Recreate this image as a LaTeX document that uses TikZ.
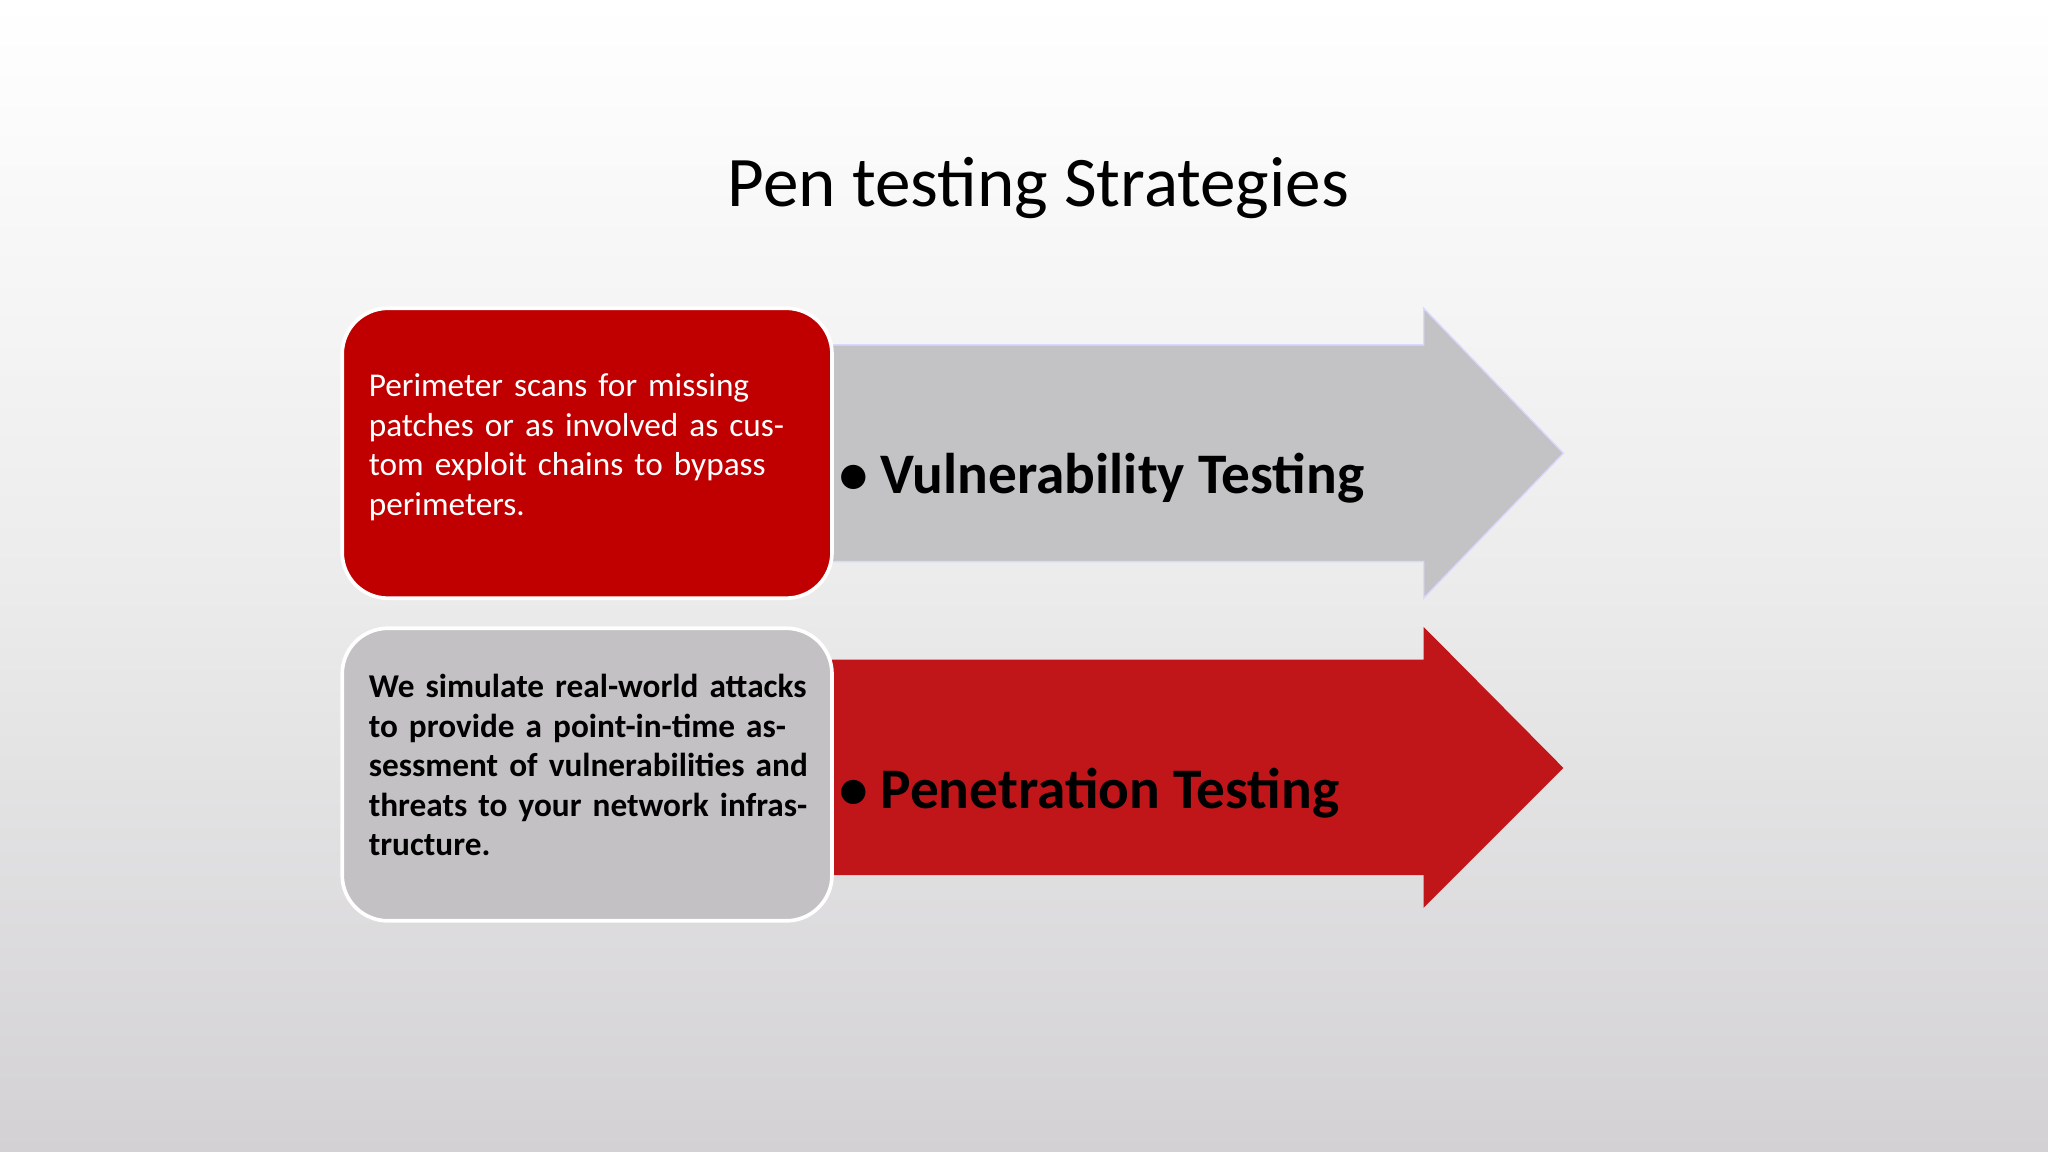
\documentclass[tikz,border=0pt]{standalone}
\usepackage{fontspec}
\setmainfont{Carlito}
\definecolor{boxred}{HTML}{C00000}
\definecolor{arrred}{HTML}{C0161A}
\definecolor{boxgray}{HTML}{C3C1C3}
\definecolor{arrgray}{HTML}{C3C3C5}
\definecolor{bgbot}{HTML}{D3D1D4}
\begin{document}
\begin{tikzpicture}[x=0.02cm,y=-0.02cm,
  card/.style={draw=white,line width=1.6pt,rounded corners=0.7cm},
  body/.style={anchor=north west,align=left,text width=6.9cm,font=\fontsize{14.5}{17.2}\selectfont,inner sep=0pt},
  albl/.style={anchor=west,font=\bfseries\fontsize{25}{30}\selectfont,inner sep=0pt}]
\shade[top color=white,bottom color=bgbot,middle color=gray!15] (0,0) rectangle (1568,882);
\useasboundingbox (0,0) rectangle (1568,882);
\node[font=\fontsize{31}{36}\selectfont] (title) at (795,144) {Pen testing Strategies};
% arrows
\fill[arrgray,draw=white!85!blue,line width=0.6pt] (637,264) -- (1090,264) -- (1090,236) -- (1197,347) -- (1090,458) -- (1090,430) -- (637,430) -- cycle;
\fill[arrred] (637,505) -- (1090,505) -- (1090,480) -- (1197,588) -- (1090,695) -- (1090,670) -- (637,670) -- cycle;
% cards
\filldraw[card,fill=boxred] (262,236) rectangle (637,458);
\filldraw[card,fill=boxgray] (262,481) rectangle (637,705);
\node[body,text=white] (t1) at (282,286) {Perimeter scans for missing patches or as involved as custom exploit chains to bypass perimeters.};
\node[body,font=\bfseries\fontsize{14.5}{17.2}\selectfont] (t2) at (282,516) {We simulate real-world attacks to provide a point-in-time assessment of vulnerabilities and threats to your network infrastructure.};
\node[albl] (a1) at (642,366) {\textbullet\ Vulnerability Testing};
\node[albl] (a2) at (642,607) {\textbullet\ Penetration Testing};
\end{tikzpicture}
\end{document}
